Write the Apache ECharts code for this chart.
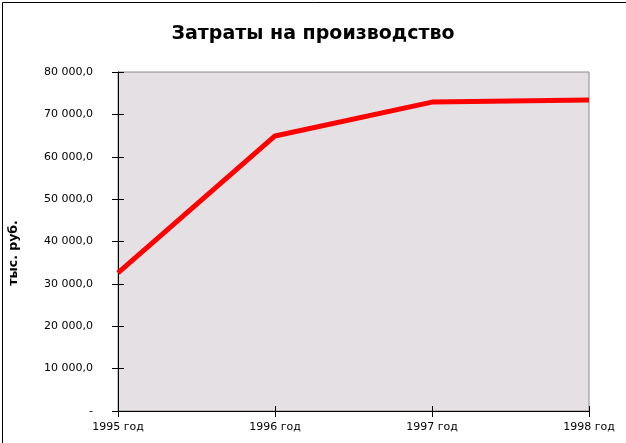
<!DOCTYPE html>
<html>
<head>
<meta charset="utf-8">
<script src="https://cdn.jsdelivr.net/npm/echarts@6/dist/echarts.min.js"></script>
<style>
html,body{margin:0;padding:0;background:#fff;}
#chart{width:626px;height:443px;}
</style>
</head>
<body>
<div id="chart"></div>
<script>
var title = 'Затраты на производство';
var yName = 'тыс. руб.';
var categories = ['1995 год', '1996 год', '1997 год', '1998 год'];
var costs = [32600, 64900, 72900, 73400];
var yMin = 0, yMax = 80000, yInterval = 10000;

function fmt(v) {
  if (v === 0) return '-';
  var s = String(Math.round(v));
  s = s.replace(/\B(?=(\d{3})+(?!\d))/g, ' ');
  return s + ',0';
}

var chart = echarts.init(document.getElementById('chart'), null, {renderer: 'canvas'});
var font = 'DejaVu Sans';
var gridCfg = {left: 118, right: 37, top: 72, bottom: 32, show: true, backgroundColor: '#e4e0e4', borderColor: '#8a8a8a', borderWidth: 1};
chart.setOption({
  backgroundColor: '#ffffff',
  animation: false,
  title: {
    text: title, left: 'center', top: 20,
    textStyle: {fontFamily: font, fontSize: 19, fontWeight: 'bold', color: '#000'}
  },
  graphic: [
    {type: 'rect', left: 0, top: 0, shape: {x: 0.5, y: 0.5, width: 625, height: 442}, style: {fill: 'none', stroke: '#000', lineWidth: 1}, silent: true},
    {type: 'text', x: 14, y: 253, rotation: Math.PI / 2, style: {text: yName, fontFamily: font, fontSize: 12.5, fontWeight: 'bold', fill: '#000', align: 'center', verticalAlign: 'middle'}}
  ],
  grid: gridCfg,
  xAxis: [
    {type: 'category', data: categories, boundaryGap: false,
     axisLine: {lineStyle: {color: '#000', width: 1}},
     axisTick: {show: true, inside: false, length: 6, lineStyle: {color: '#000'}},
     axisLabel: {fontFamily: font, fontSize: 11, color: '#000', margin: 11},
     splitLine: {show: false}},
    {type: 'category', data: categories, boundaryGap: false, position: 'bottom',
     axisLine: {show: false},
     axisTick: {show: true, inside: true, length: 5, lineStyle: {color: '#000'}},
     axisLabel: {show: false}, splitLine: {show: false}}
  ],
  yAxis: [
    {type: 'value', min: yMin, max: yMax, interval: yInterval,
     axisLine: {show: true, lineStyle: {color: '#000', width: 1}},
     axisTick: {show: true, inside: false, length: 6, lineStyle: {color: '#000'}},
     axisLabel: {fontFamily: font, fontSize: 11, color: '#000', margin: 25, formatter: fmt},
     splitLine: {show: false}},
    {type: 'value', min: yMin, max: yMax, interval: yInterval, position: 'left',
     axisLine: {show: false},
     axisTick: {show: true, inside: true, length: 6, lineStyle: {color: '#000'}},
     axisLabel: {show: false}, splitLine: {show: false}}
  ],
  series: [{
    type: 'line', data: costs, xAxisIndex: 0, yAxisIndex: 0,
    symbol: 'none', lineStyle: {color: '#ff0000', width: 5}, z: 5
  }]
});
</script>
</body>
</html>
